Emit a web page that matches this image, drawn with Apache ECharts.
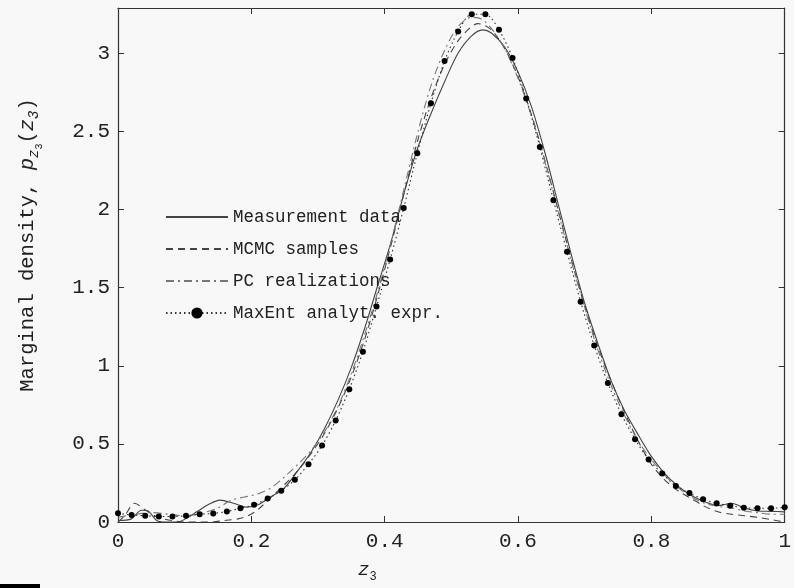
<!DOCTYPE html>
<html>
<head>
<meta charset="utf-8">
<script src="https://cdn.jsdelivr.net/npm/echarts@6/dist/echarts.min.js"></script>
<style>
html,body{margin:0;padding:0;background:#f8f8f8;}
#chart{width:794px;height:588px;}
</style>
</head>
<body>
<div id="chart"></div>
<script>
// Measurement data (solid)
const measX = [0, 0.02, 0.035, 0.045, 0.058, 0.07, 0.09, 0.103, 0.12, 0.135, 0.153, 0.173, 0.193, 0.21, 0.225, 0.25, 0.27, 0.29, 0.31, 0.33, 0.35, 0.37, 0.39, 0.41, 0.43, 0.45, 0.47, 0.49, 0.51, 0.53, 0.547, 0.56, 0.58, 0.60, 0.62, 0.64, 0.66, 0.68, 0.70, 0.72, 0.74, 0.76, 0.78, 0.80, 0.82, 0.84, 0.86, 0.88, 0.90, 0.92, 0.94, 0.96, 0.98, 1.0];
const measY = [0.01, 0.02, 0.075, 0.07, 0.01, 0.0, 0.0, 0.025, 0.07, 0.11, 0.14, 0.12, 0.095, 0.11, 0.15, 0.22, 0.33, 0.45, 0.60, 0.78, 0.99, 1.24, 1.52, 1.80, 2.12, 2.40, 2.62, 2.82, 3.00, 3.11, 3.15, 3.13, 3.04, 2.88, 2.66, 2.37, 2.04, 1.71, 1.40, 1.14, 0.90, 0.71, 0.56, 0.42, 0.31, 0.23, 0.17, 0.13, 0.105, 0.12, 0.09, 0.07, 0.068, 0.065];

// MCMC samples (dashed)
const mcmcX = [0, 0.01, 0.025, 0.04, 0.06, 0.08, 0.10, 0.12, 0.14, 0.16, 0.18, 0.195, 0.21, 0.23, 0.25, 0.27, 0.29, 0.31, 0.33, 0.35, 0.37, 0.39, 0.41, 0.43, 0.45, 0.47, 0.49, 0.51, 0.53, 0.54, 0.56, 0.58, 0.60, 0.62, 0.64, 0.66, 0.68, 0.70, 0.72, 0.74, 0.76, 0.78, 0.80, 0.82, 0.84, 0.86, 0.88, 0.90, 0.92, 0.94, 0.96, 0.98, 1.0];
const mcmcY = [0.0, 0.04, 0.12, 0.08, 0.03, 0.01, 0.0, 0.0, 0.0, 0.01, 0.02, 0.04, 0.08, 0.16, 0.24, 0.33, 0.44, 0.57, 0.73, 0.93, 1.17, 1.46, 1.78, 2.12, 2.45, 2.72, 2.93, 3.08, 3.17, 3.19, 3.15, 3.03, 2.85, 2.61, 2.32, 2.00, 1.68, 1.38, 1.12, 0.90, 0.70, 0.52, 0.37, 0.27, 0.20, 0.15, 0.10, 0.065, 0.05, 0.04, 0.03, 0.015, 0.0];

// PC realizations (dash-dot)
const pcX = [0, 0.05, 0.10, 0.12, 0.15, 0.17, 0.19, 0.21, 0.23, 0.25, 0.27, 0.29, 0.31, 0.33, 0.35, 0.37, 0.39, 0.41, 0.43, 0.45, 0.47, 0.49, 0.51, 0.53, 0.545, 0.56, 0.58, 0.60, 0.62, 0.64, 0.66, 0.68, 0.70, 0.72, 0.74, 0.76, 0.78, 0.80, 0.82, 0.84, 0.86, 0.88, 0.90, 0.92, 0.94, 0.96, 0.98, 1.0];
const pcY = [0.03, 0.06, 0.04, 0.05, 0.09, 0.14, 0.16, 0.18, 0.22, 0.29, 0.37, 0.46, 0.58, 0.74, 0.95, 1.20, 1.48, 1.80, 2.15, 2.50, 2.80, 3.02, 3.17, 3.23, 3.22, 3.16, 3.03, 2.84, 2.60, 2.31, 1.99, 1.67, 1.37, 1.10, 0.87, 0.68, 0.52, 0.40, 0.30, 0.22, 0.16, 0.12, 0.10, 0.09, 0.07, 0.06, 0.05, 0.05];

// MaxEnt analytical expression (dotted with markers), 50 points on [0,1]
const maxentY = [0.056, 0.045, 0.040, 0.035, 0.035, 0.040, 0.050, 0.055, 0.067, 0.088,
                 0.11, 0.15, 0.20, 0.27, 0.37, 0.49, 0.65, 0.85, 1.09, 1.38,
                 1.68, 2.01, 2.36, 2.68, 2.95, 3.14, 3.25, 3.25, 3.15, 2.97,
                 2.71, 2.40, 2.06, 1.73, 1.41, 1.13, 0.89, 0.69, 0.53, 0.40,
                 0.31, 0.23, 0.185, 0.146, 0.12, 0.104, 0.092, 0.088, 0.088, 0.094];

const seriesNames = ['Measurement data', 'MCMC samples', 'PC realizations', 'MaxEnt analyt. expr.'];
const xTicks = [0, 0.2, 0.4, 0.6, 0.8, 1];
const yTicks = [0, 0.5, 1, 1.5, 2, 2.5, 3];

const zip = (xs, ys) => xs.map((x, i) => [x, ys[i]]);
const maxentData = maxentY.map((y, i) => [i / (maxentY.length - 1), y]);

const font = 'Liberation Mono, Courier New, monospace';
const axisColor = '#333';

const chart = echarts.init(document.getElementById('chart'), null, {renderer: 'canvas'});
chart.setOption({
  backgroundColor: '#f8f8f8',
  animation: false,
  grid: {left: 118, right: 9, top: 8, bottom: 54, containLabel: false},
  legend: {
    orient: 'vertical',
    left: 160,
    top: 203,
    itemWidth: 62,
    itemHeight: 14,
    itemGap: 14,
    data: [
      {name: seriesNames[0], itemStyle: {opacity: 0}},
      {name: seriesNames[1], itemStyle: {opacity: 0}},
      {name: seriesNames[2], itemStyle: {opacity: 0}},
      {name: seriesNames[3]}
    ],
    textStyle: {fontFamily: font, fontSize: 17.5, color: '#222'},
    backgroundColor: 'transparent'
  },
  xAxis: [{
    type: 'value', min: 0, max: 1, interval: 0.2, position: 'bottom',
    axisLine: {onZero: false, lineStyle: {color: axisColor, width: 1.2}},
    axisTick: {inside: true, length: 6, lineStyle: {color: axisColor}},
    axisLabel: {fontFamily: font, fontSize: 21, color: '#222', margin: 9,
      formatter: v => String(Math.round(v * 10) / 10)},
    splitLine: {show: false},
    name: '{i|z}{s|3}',
    nameLocation: 'middle',
    nameGap: 35,
    nameTextStyle: {padding: [0, 168, 0, 0], rich: {
      i: {fontFamily: font, fontSize: 19, fontStyle: 'italic', color: '#222'},
      s: {fontFamily: font, fontSize: 12, color: '#222', padding: [14, 0, 0, 0]}
    }}
  }, {
    type: 'value', min: 0, max: 1, interval: 0.2, position: 'top',
    axisLine: {onZero: false, lineStyle: {color: axisColor, width: 1.2}},
    axisTick: {inside: true, length: 6, lineStyle: {color: axisColor}},
    axisLabel: {show: false}, splitLine: {show: false}
  }],
  yAxis: [{
    type: 'value', min: 0, max: 3.29, interval: 0.5, position: 'left',
    axisLine: {onZero: false, lineStyle: {color: axisColor, width: 1.2}},
    axisTick: {inside: true, length: 6, lineStyle: {color: axisColor}},
    axisLabel: {fontFamily: font, fontSize: 21, color: '#222', margin: 8, showMaxLabel: false},
    splitLine: {show: false},
    name: '{a|Marginal density, }{i|p}{s|z}{ss|3}{a|(}{i|z}{s|3}{a|)}',
    nameLocation: 'middle',
    nameRotate: 90,
    nameGap: 74,
    nameTextStyle: {padding: [0, 0, 0, 40], rich: {
      a: {fontFamily: font, fontSize: 20.5, color: '#222'},
      i: {fontFamily: font, fontSize: 20.5, fontStyle: 'italic', color: '#222'},
      s: {fontFamily: font, fontSize: 14, fontStyle: 'italic', color: '#222', padding: [12, 0, 0, 0]},
      ss: {fontFamily: font, fontSize: 10, color: '#222', padding: [22, 0, 0, 0]}
    }}
  }, {
    type: 'value', min: 0, max: 3.29, interval: 0.5, position: 'right',
    axisLine: {onZero: false, lineStyle: {color: axisColor, width: 1.2}},
    axisTick: {inside: true, length: 6, lineStyle: {color: axisColor}},
    axisLabel: {show: false}, splitLine: {show: false}
  }],
  series: [{
    name: seriesNames[0], type: 'line', data: zip(measX, measY), smooth: 0.3,
    showSymbol: false, symbol: 'none',
    lineStyle: {color: '#444', width: 1.1, type: 'solid'}, itemStyle: {color: '#444'}
  }, {
    name: seriesNames[1], type: 'line', data: zip(mcmcX, mcmcY), smooth: 0.3,
    showSymbol: false, symbol: 'none',
    lineStyle: {color: '#444', width: 1.1, type: [7, 5]}, itemStyle: {color: '#444'}
  }, {
    name: seriesNames[2], type: 'line', data: zip(pcX, pcY), smooth: 0.3,
    showSymbol: false, symbol: 'none',
    lineStyle: {color: '#777', width: 1.1, type: [8, 4, 2, 4]}, itemStyle: {color: '#777'}
  }, {
    name: seriesNames[3], type: 'line', data: maxentData, smooth: 0.3,
    symbol: 'circle', symbolSize: 6, showSymbol: true,
    lineStyle: {color: '#333', width: 1.1, type: [1.5, 3]}, itemStyle: {color: '#000', borderWidth: 0}
  }],
  graphic: [{
    type: 'rect', left: 0, top: 584, shape: {width: 40, height: 4}, style: {fill: '#000'}
  }]
});
</script>
</body>
</html>
